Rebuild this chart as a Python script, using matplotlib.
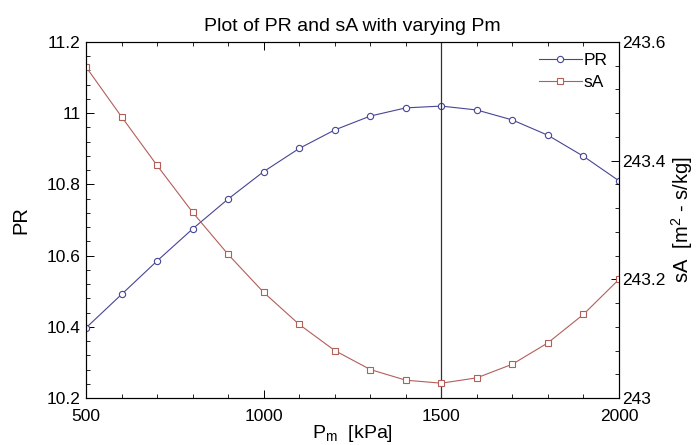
import numpy as np
import matplotlib.pyplot as plt
from matplotlib.ticker import MultipleLocator

plt.rcParams['font.family'] = ['Liberation Sans', 'DejaVu Sans']

pm = [500, 600, 700, 800, 900, 1000, 1100, 1200, 1300, 1400, 1500, 1600, 1700, 1800, 1900, 2000]
pr = [10.397, 10.491, 10.585, 10.675, 10.759, 10.836, 10.901, 10.953, 10.992, 11.015,
      11.020, 11.009, 10.981, 10.938, 10.879, 10.810]
sa = [243.558, 243.474, 243.392, 243.313, 243.242, 243.178, 243.124, 243.080, 243.048,
      243.030, 243.025, 243.034, 243.057, 243.093, 243.141, 243.200]
pm_opt = 1500

blue = '#464694'
red = '#b45e5a'

fig = plt.figure(figsize=(6.97, 4.45), dpi=100)
ax = fig.add_axes([0.1234, 0.1056, 0.7647, 0.80])
ax2 = ax.twinx()

l1, = ax.plot(pm, pr, color=blue, lw=0.8, marker='o', ms=4.5, mfc='white',
              mec=blue, mew=0.8, label='PR')
l2, = ax2.plot(pm, sa, color=red, lw=0.8, marker='s', ms=5, mfc='white',
               mec=red, mew=0.8, label='sA')
ax.axvline(pm_opt, color='#333333', lw=0.9)

ax.set_xlim(500, 2000)
ax.set_ylim(10.2, 11.2)
ax2.set_ylim(243, 243.6)

ax.xaxis.set_major_locator(MultipleLocator(500))
ax.xaxis.set_minor_locator(MultipleLocator(100))
ax.yaxis.set_minor_locator(MultipleLocator(0.04))
ax2.yaxis.set_minor_locator(MultipleLocator(0.04))

ax.set_yticks([10.2, 10.4, 10.6, 10.8, 11.0, 11.2])
ax.set_yticklabels(['10.2', '10.4', '10.6', '10.8', '11', '11.2'])
ax2.set_yticks([243, 243.2, 243.4, 243.6])
ax2.set_yticklabels(['243', '243.2', '243.4', '243.6'])

ax.tick_params(axis='x', which='both', direction='in', top=True, labelsize=12.5, pad=8)
ax.tick_params(axis='y', which='both', direction='in', right=False, labelsize=12.5, pad=4)
ax2.tick_params(axis='y', which='both', direction='in', labelsize=12.5, pad=2)
for a in (ax, ax2):
    a.tick_params(which='major', length=6, width=0.7)
    a.tick_params(which='minor', length=3, width=0.6)
    for s in a.spines.values():
        s.set_linewidth(0.8)

ax.set_xlabel('P$_\\mathregular{m}$  [kPa]', fontsize=14, labelpad=-1)
ax.set_ylabel('PR', fontsize=14.5, labelpad=12)
ax2.set_ylabel('sA  [m$^\\mathregular{2}$ - s/kg]', fontsize=14.5, labelpad=3)
ax.set_title('Plot of PR and sA with varying Pm', fontsize=14, pad=8)

ax.legend([l1, l2], ['PR', 'sA'], loc='upper right', frameon=False, fontsize=12.5,
          handlelength=2.5, handletextpad=0.1, borderaxespad=0.1, borderpad=0.55,
          labelspacing=0.35)

fig.savefig('out.png', dpi=100)
